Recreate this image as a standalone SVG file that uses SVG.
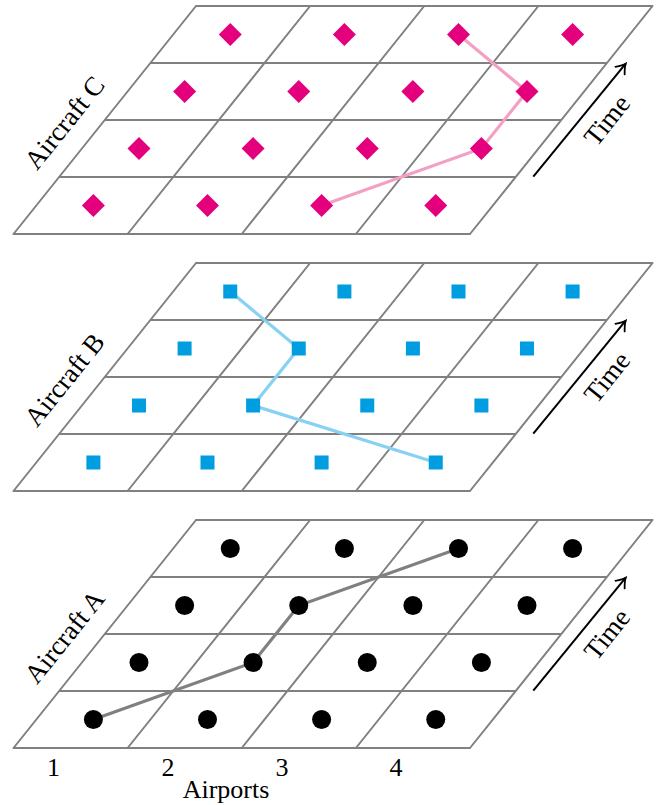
<svg xmlns="http://www.w3.org/2000/svg" xmlns:xlink="http://www.w3.org/1999/xlink" width="657" height="805" viewBox="0 0 657 805">
<style>
.grid{fill:none;stroke:#808080;stroke-width:2;stroke-linecap:round}
.lbl{font-family:"Liberation Serif","DejaVu Serif",serif;font-size:27px;fill:#000;text-anchor:middle}
.ax{font-family:"Liberation Serif","DejaVu Serif",serif;font-size:26px;fill:#000;text-anchor:middle}
.arr{stroke:#000;stroke-width:2;fill:none}
.dot{fill:#000}
.sq{fill:#009EE0}
.dia{fill:#E4007C}
.cA{stroke:#808080;stroke-width:3.2;fill:none}
.cB{stroke:#87D1F3;stroke-width:3.2;fill:none}
.cC{stroke:#F4A0C4;stroke-width:3.2;fill:none}
</style>
<defs>
<marker id="ah" viewBox="-10 -7 12 14" markerWidth="12" markerHeight="14" refX="0" refY="0" orient="auto" markerUnits="userSpaceOnUse">
<path d="M-9,-6 Q-3,-1 0,0 Q-3,1 -9,6" fill="none" stroke="#000" stroke-width="1.8" stroke-linecap="round"/>
</marker>
<g id="grid">
<path class="grid" d="M13.5,748H470M59.1,691H515.6M104.75,634H561.25M150.4,577H606.9M196,520H652.5M13.5,748L196,520M127.6,748L310.1,520M241.75,748L424.25,520M355.9,748L538.4,520M470,748L652.5,520"/>
</g>
<circle id="c" r="9.5"/>
<rect id="s" x="-7" y="-7" width="14" height="14"/>
<polygon id="d" points="0,-11.5 11.5,0 0,11.5 -11.5,0"/>
</defs>

<g id="grids">
<use xlink:href="#grid"/>
<use xlink:href="#grid" transform="translate(0,-257)"/>
<use xlink:href="#grid" transform="translate(0,-514)"/>
</g>

<g id="connectors">
<polyline class="cA" points="93.4,719.5 253.1,662.5 298.75,605.5 458.5,548.5"/>
<polyline class="cB" points="230.25,291.5 298.75,348.5 253.1,405.5 435.75,462.5"/>
<polyline class="cC" points="458.5,34.5 527,91.5 481.4,148.5 321.6,205.5"/>
<line class="arr" x1="533.3" y1="690.7" x2="625.7" y2="577.7" marker-end="url(#ah)"/>
<line class="arr" x1="533.3" y1="433.7" x2="625.7" y2="320.7" marker-end="url(#ah)"/>
<line class="arr" x1="533.3" y1="176.7" x2="625.7" y2="63.7" marker-end="url(#ah)"/>
</g>

<g id="aircraft-a" class="dot">
<use xlink:href="#c" x="93.4" y="719.5"/><use xlink:href="#c" x="207.5" y="719.5"/><use xlink:href="#c" x="321.6" y="719.5"/><use xlink:href="#c" x="435.75" y="719.5"/>
<use xlink:href="#c" x="139" y="662.5"/><use xlink:href="#c" x="253.1" y="662.5"/><use xlink:href="#c" x="367.25" y="662.5"/><use xlink:href="#c" x="481.4" y="662.5"/>
<use xlink:href="#c" x="184.6" y="605.5"/><use xlink:href="#c" x="298.75" y="605.5"/><use xlink:href="#c" x="412.9" y="605.5"/><use xlink:href="#c" x="527" y="605.5"/>
<use xlink:href="#c" x="230.25" y="548.5"/><use xlink:href="#c" x="344.4" y="548.5"/><use xlink:href="#c" x="458.5" y="548.5"/><use xlink:href="#c" x="572.6" y="548.5"/>
<text class="lbl" transform="translate(66,638) rotate(-51.3)" y="7">Aircraft A</text>
<text class="lbl" transform="translate(608.5,635.5) rotate(-51.3)" y="7">Time</text>
</g>

<g id="aircraft-b" class="sq">
<use xlink:href="#s" x="93.4" y="462.5"/><use xlink:href="#s" x="207.5" y="462.5"/><use xlink:href="#s" x="321.6" y="462.5"/><use xlink:href="#s" x="435.75" y="462.5"/>
<use xlink:href="#s" x="139" y="405.5"/><use xlink:href="#s" x="253.1" y="405.5"/><use xlink:href="#s" x="367.25" y="405.5"/><use xlink:href="#s" x="481.4" y="405.5"/>
<use xlink:href="#s" x="184.6" y="348.5"/><use xlink:href="#s" x="298.75" y="348.5"/><use xlink:href="#s" x="412.9" y="348.5"/><use xlink:href="#s" x="527" y="348.5"/>
<use xlink:href="#s" x="230.25" y="291.5"/><use xlink:href="#s" x="344.4" y="291.5"/><use xlink:href="#s" x="458.5" y="291.5"/><use xlink:href="#s" x="572.6" y="291.5"/>
<text class="lbl" transform="translate(66,381) rotate(-51.3)" y="7">Aircraft B</text>
<text class="lbl" transform="translate(608.5,378.5) rotate(-51.3)" y="7">Time</text>
</g>

<g id="aircraft-c" class="dia">
<use xlink:href="#d" x="93.4" y="205.5"/><use xlink:href="#d" x="207.5" y="205.5"/><use xlink:href="#d" x="321.6" y="205.5"/><use xlink:href="#d" x="435.75" y="205.5"/>
<use xlink:href="#d" x="139" y="148.5"/><use xlink:href="#d" x="253.1" y="148.5"/><use xlink:href="#d" x="367.25" y="148.5"/><use xlink:href="#d" x="481.4" y="148.5"/>
<use xlink:href="#d" x="184.6" y="91.5"/><use xlink:href="#d" x="298.75" y="91.5"/><use xlink:href="#d" x="412.9" y="91.5"/><use xlink:href="#d" x="527" y="91.5"/>
<use xlink:href="#d" x="230.25" y="34.5"/><use xlink:href="#d" x="344.4" y="34.5"/><use xlink:href="#d" x="458.5" y="34.5"/><use xlink:href="#d" x="572.6" y="34.5"/>
<text class="lbl" transform="translate(66,124) rotate(-51.3)" y="7">Aircraft C</text>
<text class="lbl" transform="translate(608.5,121.5) rotate(-51.3)" y="7">Time</text>
</g>

<g id="axis">
<text class="ax" x="53.5" y="776">1</text>
<text class="ax" x="168" y="776">2</text>
<text class="ax" x="282" y="776">3</text>
<text class="ax" x="396" y="776">4</text>
<text class="ax" x="226" y="798">Airports</text>
</g>
</svg>
